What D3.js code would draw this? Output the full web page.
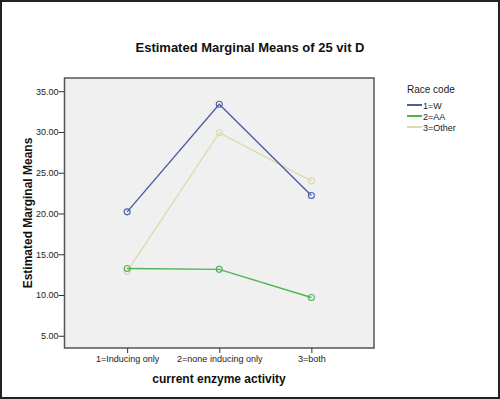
<!DOCTYPE html>
<html>
<head>
<meta charset="utf-8">
<script src="https://cdn.jsdelivr.net/npm/d3@7"></script>
<style>
  html, body { margin: 0; padding: 0; background: #fff; }
  svg { display: block; font-family: "Liberation Sans", Arial, sans-serif; }
</style>
</head>
<body>
<div id="chart"></div>
<script>
// categories on the x axis
var categories = ['1=Inducing only', '2=none inducing only', '3=both'];
// one series per race code
var seriesNames = ['1=W', '2=AA', '3=Other'];
var seriesColors = ['#4b5da8', '#4cb653', '#dcd9aa'];
var valuesW = [20.2, 33.4, 22.2];
var valuesAA = [13.25, 13.15, 9.7];
var valuesOther = [12.9, 29.9, 24.0];
var yTicks = [5, 10, 15, 20, 25, 30, 35];

var W = 500, H = 399;
var plot = {left: 64.5, right: 374, top: 78, bottom: 348};

var svg = d3.select('#chart').append('svg')
    .attr('width', W)
    .attr('height', H);

// outer border
svg.append('rect')
    .attr('x', 1).attr('y', 1)
    .attr('width', W - 2).attr('height', H - 2)
    .attr('fill', '#fff')
    .attr('stroke', '#222')
    .attr('stroke-width', 2);

svg.append('text')
    .attr('x', 250).attr('y', 52)
    .attr('text-anchor', 'middle')
    .attr('font-size', 13)
    .attr('font-weight', 'bold')
    .attr('fill', '#111')
    .text('Estimated Marginal Means of 25 vit D');

var x = d3.scalePoint()
    .domain(categories)
    .range([plot.left, plot.right])
    .padding(0.68);

var y = d3.scaleLinear()
    .domain([3.5, 36.62])
    .range([plot.bottom, plot.top]);

// plot background
svg.append('rect')
    .attr('x', plot.left).attr('y', plot.top)
    .attr('width', plot.right - plot.left)
    .attr('height', plot.bottom - plot.top)
    .attr('fill', '#f0f0f0')
    .attr('stroke', '#555')
    .attr('stroke-width', 1.5);

// y axis
var yAxis = svg.append('g')
    .attr('transform', 'translate(' + plot.left + ',0)')
    .call(d3.axisLeft(y).tickValues(yTicks).tickSize(6).tickFormat(d3.format('.2f')));
yAxis.select('.domain').remove();
yAxis.selectAll('line').attr('stroke', '#333');
yAxis.selectAll('text')
    .attr('font-size', 9)
    .attr('fill', '#222')
    .attr('font-family', '"Liberation Sans", Arial, sans-serif')
    .attr('x', -6);

// x axis
var xAxis = svg.append('g')
    .attr('transform', 'translate(0,' + plot.bottom + ')')
    .call(d3.axisBottom(x).tickSize(5));
xAxis.select('.domain').remove();
xAxis.selectAll('line').attr('stroke', '#333');
xAxis.selectAll('text')
    .attr('font-size', 9)
    .attr('fill', '#222')
    .attr('font-family', '"Liberation Sans", Arial, sans-serif')
    .attr('y', 8);

svg.append('text')
    .attr('x', 219).attr('y', 383)
    .attr('text-anchor', 'middle')
    .attr('font-size', 12)
    .attr('font-weight', 'bold')
    .attr('fill', '#111')
    .text('current enzyme activity');

svg.append('text')
    .attr('transform', 'translate(32,' + ((plot.top + plot.bottom) / 2) + ') rotate(-90)')
    .attr('text-anchor', 'middle')
    .attr('font-size', 12)
    .attr('font-weight', 'bold')
    .attr('fill', '#111')
    .text('Estimated Marginal Means');

// lines and markers, Other first so W and AA sit on top
var series = [valuesW, valuesAA, valuesOther];
var drawOrder = [2, 0, 1];
var line = d3.line()
    .x(function(d, i) { return x(categories[i]); })
    .y(function(d) { return y(d); });

drawOrder.forEach(function(s) {
    var g = svg.append('g');
    g.append('path')
        .datum(series[s])
        .attr('d', line)
        .attr('fill', 'none')
        .attr('stroke', seriesColors[s])
        .attr('stroke-width', s === 2 ? 1.2 : 1.4);
    g.selectAll('circle')
        .data(series[s])
        .enter().append('circle')
        .attr('cx', function(d, i) { return x(categories[i]); })
        .attr('cy', function(d) { return y(d); })
        .attr('r', 3)
        .attr('fill', 'none')
        .attr('stroke', seriesColors[s])
        .attr('stroke-width', 1.1);
});

// legend
var legend = svg.append('g').attr('transform', 'translate(407,0)');
legend.append('text')
    .attr('x', 0).attr('y', 93)
    .attr('font-size', 10)
    .attr('fill', '#222')
    .text('Race code');
seriesNames.forEach(function(name, i) {
    var ly = 105 + i * 11;
    legend.append('line')
        .attr('x1', 0).attr('x2', 15)
        .attr('y1', ly).attr('y2', ly)
        .attr('stroke', seriesColors[i])
        .attr('stroke-width', 2);
    legend.append('text')
        .attr('x', 16).attr('y', ly + 3.5)
        .attr('font-size', 9)
        .attr('fill', '#222')
        .text(name);
});
</script>
</body>
</html>
